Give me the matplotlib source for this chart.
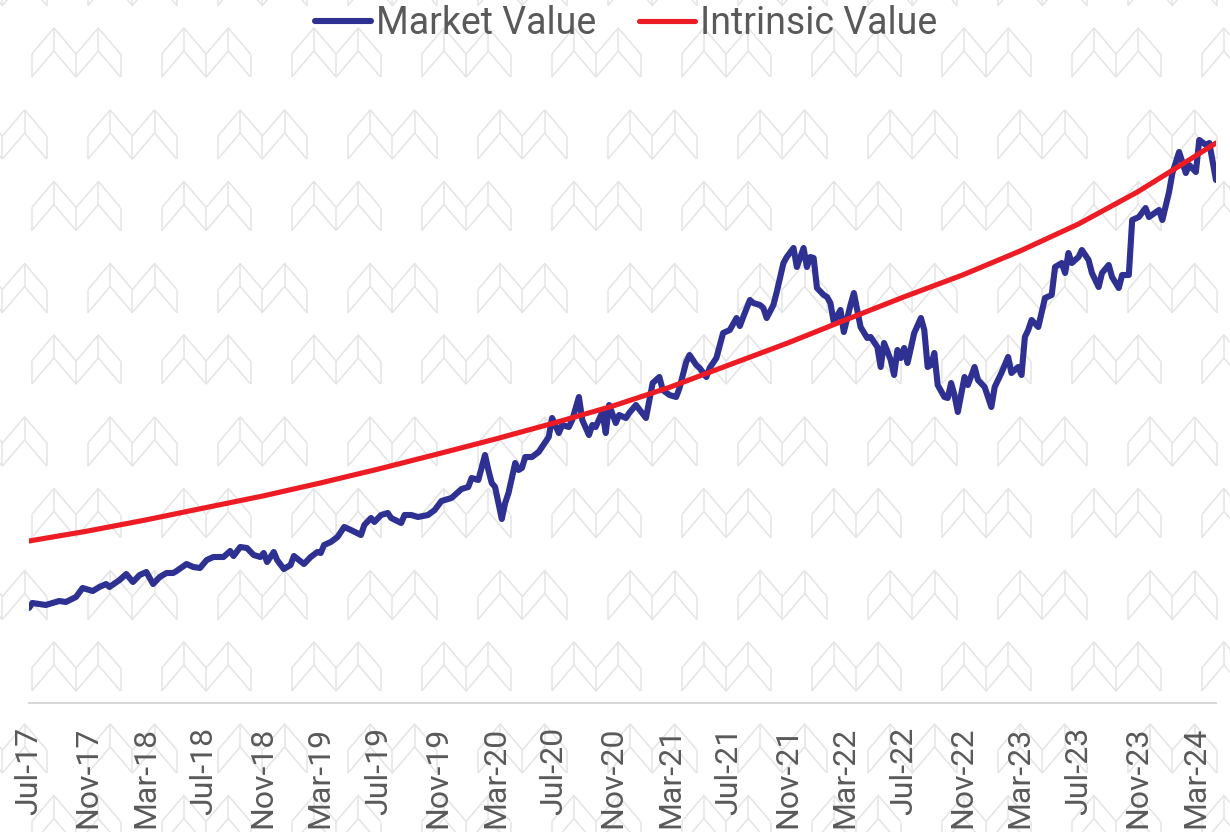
import matplotlib
matplotlib.use("Agg")

import pandas as pd
import matplotlib.pyplot as plt
import matplotlib.dates as mdates
from matplotlib.collections import LineCollection

plt.rcParams["font.family"] = ["Roboto", "DejaVu Sans"]

# ---- data (index levels, weekly observations counted from start) ----
start = pd.Timestamp("2017-07-01")

market_weeks = [
    0, 1, 5, 9, 11, 14, 16, 17, 19, 21, 23, 24, 27, 29, 31, 33, 35, 37, 39, 41,
    43, 44, 47, 49, 51, 53, 55, 58, 60, 61, 63, 65, 67, 69, 70, 71, 73, 74, 76, 78,
    79, 82, 84, 86, 87, 88, 90, 92, 94, 96, 99, 100, 102, 103, 105, 107, 108, 111, 112, 114,
    116, 119, 121, 123, 126, 129, 131, 132, 134, 136, 137, 138, 139, 140, 141, 142, 143, 145, 146, 147,
    148, 150, 152, 154, 155, 156, 158, 159, 161, 162, 164, 165, 167, 168, 169, 171, 172, 173, 175, 176,
    178, 179, 181, 184, 186, 188, 189, 191, 193, 194, 196, 197, 199, 200, 202, 203, 205, 207, 209, 211,
    212, 213, 215, 216, 218, 219, 220, 222, 223, 225, 226, 228, 229, 231, 232, 233, 234, 235, 237, 238,
    239, 240, 242, 243, 245, 246, 248, 250, 251, 253, 254, 255, 257, 258, 259, 260, 261, 262, 264, 266,
    267, 268, 269, 270, 271, 273, 274, 275, 276, 277, 279, 280, 282, 283, 285, 287, 288, 290, 292, 293,
    295, 296, 297, 298, 299, 301, 303, 305, 306, 308, 309, 310, 311, 313, 314, 316, 317, 319, 320, 322,
    323, 325, 326, 328, 329, 331, 333, 334, 337, 338, 340, 341, 343, 345, 346, 348, 349, 351, 352, 354,
]
market_values = [
    95, 100, 98, 102, 101, 106, 115, 114, 112, 116, 119, 116, 123, 129, 121, 128, 131, 119, 126, 130,
    130, 132, 139, 136, 135, 143, 146, 146, 152, 147, 156, 155, 148, 146, 150, 141, 151, 143, 134, 138,
    147, 139, 146, 151, 150, 158, 161, 166, 176, 173, 168, 178, 185, 181, 188, 190, 185, 180, 188, 188,
    186, 188, 193, 202, 205, 214, 216, 225, 223, 248, 233, 220, 216, 200, 184, 200, 210, 240, 233, 235,
    246, 246, 251, 261, 266, 285, 270, 278, 276, 283, 306, 283, 268, 278, 276, 291, 270, 298, 280, 288,
    285, 290, 298, 285, 320, 326, 313, 308, 306, 315, 341, 348, 338, 335, 326, 335, 345, 370, 373, 385,
    377, 386, 403, 400, 398, 395, 385, 398, 411, 440, 446, 455, 436, 455, 436, 446, 445, 415, 408, 406,
    400, 381, 393, 371, 398, 410, 376, 365, 366, 356, 336, 360, 343, 328, 353, 345, 355, 340, 370, 385,
    373, 336, 338, 350, 318, 306, 305, 320, 308, 291, 326, 318, 336, 323, 316, 296, 316, 330, 346, 330,
    336, 328, 366, 373, 383, 376, 405, 408, 436, 440, 430, 450, 440, 446, 453, 443, 430, 416, 430, 438,
    426, 415, 428, 428, 483, 486, 495, 486, 493, 483, 511, 530, 551, 530, 538, 531, 563, 558, 560, 523,
]

intrinsic_dates = pd.date_range("2017-07-01", "2024-03-01", freq="4MS").append(
    pd.DatetimeIndex(["2024-04-13"]))
intrinsic_values = [162, 172, 183, 195, 207, 220, 234, 249, 264, 280, 297,
                    316, 338, 360, 383, 406, 428, 452, 479, 511, 547, 560]

market_dates = start + pd.to_timedelta(market_weeks, unit="W")
end = pd.Timestamp("2024-04-13")

W, H = 1230, 832
fig = plt.figure(figsize=(W / 100, H / 100), dpi=100)

# ---- background watermark (double chevron pattern) ----
bg = fig.add_axes([0, 0, 1, 1], zorder=0)
bg.set_xlim(0, W)
bg.set_ylim(H, 0)
bg.axis("off")
segs = []
dx = 22.2
for row in range(-1, 7):
    for x0, y0 in [(31.7, 28), (88, 110)]:
        y = y0 + row * 153.5
        for col in range(-1, 11):
            x = x0 + col * 130
            xs = [x + i * dx for i in range(5)]
            tops = [y + (26 if i % 2 == 0 else 0) for i in range(5)]
            segs.append(list(zip(xs, tops)))
            segs.append(list(zip(xs, [t + 23 for t in tops])))
            for xi, t in zip(xs, tops):
                segs.append([(xi, t), (xi, t + 23)])
bg.add_collection(LineCollection(segs, colors="#e4e4e4", linewidths=1.1))

# ---- main chart ----
ax = fig.add_axes([29 / W, (H - 703) / H, (1216 - 29) / W, 640 / H], zorder=1)
ax.patch.set_alpha(0)

ax.plot(market_dates, market_values, color="#2e3192", lw=4.4,
        solid_capstyle="round", solid_joinstyle="round", label="Market Value")
ax.plot(intrinsic_dates, intrinsic_values, color="#ed1c24", lw=3.7,
        solid_capstyle="round", label="Intrinsic Value")

ax.set_xlim(start, end)
ax.set_ylim(0, 640)

ax.xaxis.set_major_locator(mdates.MonthLocator(bymonth=[3, 7, 11]))
ax.xaxis.set_major_formatter(mdates.DateFormatter("%b-%y"))
ax.tick_params(axis="x", length=0, pad=17, labelsize=23, labelcolor="#595959",
               labelrotation=90)
ax.set_yticks([])
for s in ["top", "right", "left"]:
    ax.spines[s].set_visible(False)
ax.spines["bottom"].set_color("#d9d9d9")
ax.spines["bottom"].set_linewidth(1.5)

fig.legend(loc="center", bbox_to_anchor=(626 / W, 1 - 24 / H), ncol=2,
           frameon=False, fontsize=27, handlelength=1.5, handletextpad=0.12,
           columnspacing=1.15, labelcolor="#595959")

fig.savefig("out.png", dpi=100)
